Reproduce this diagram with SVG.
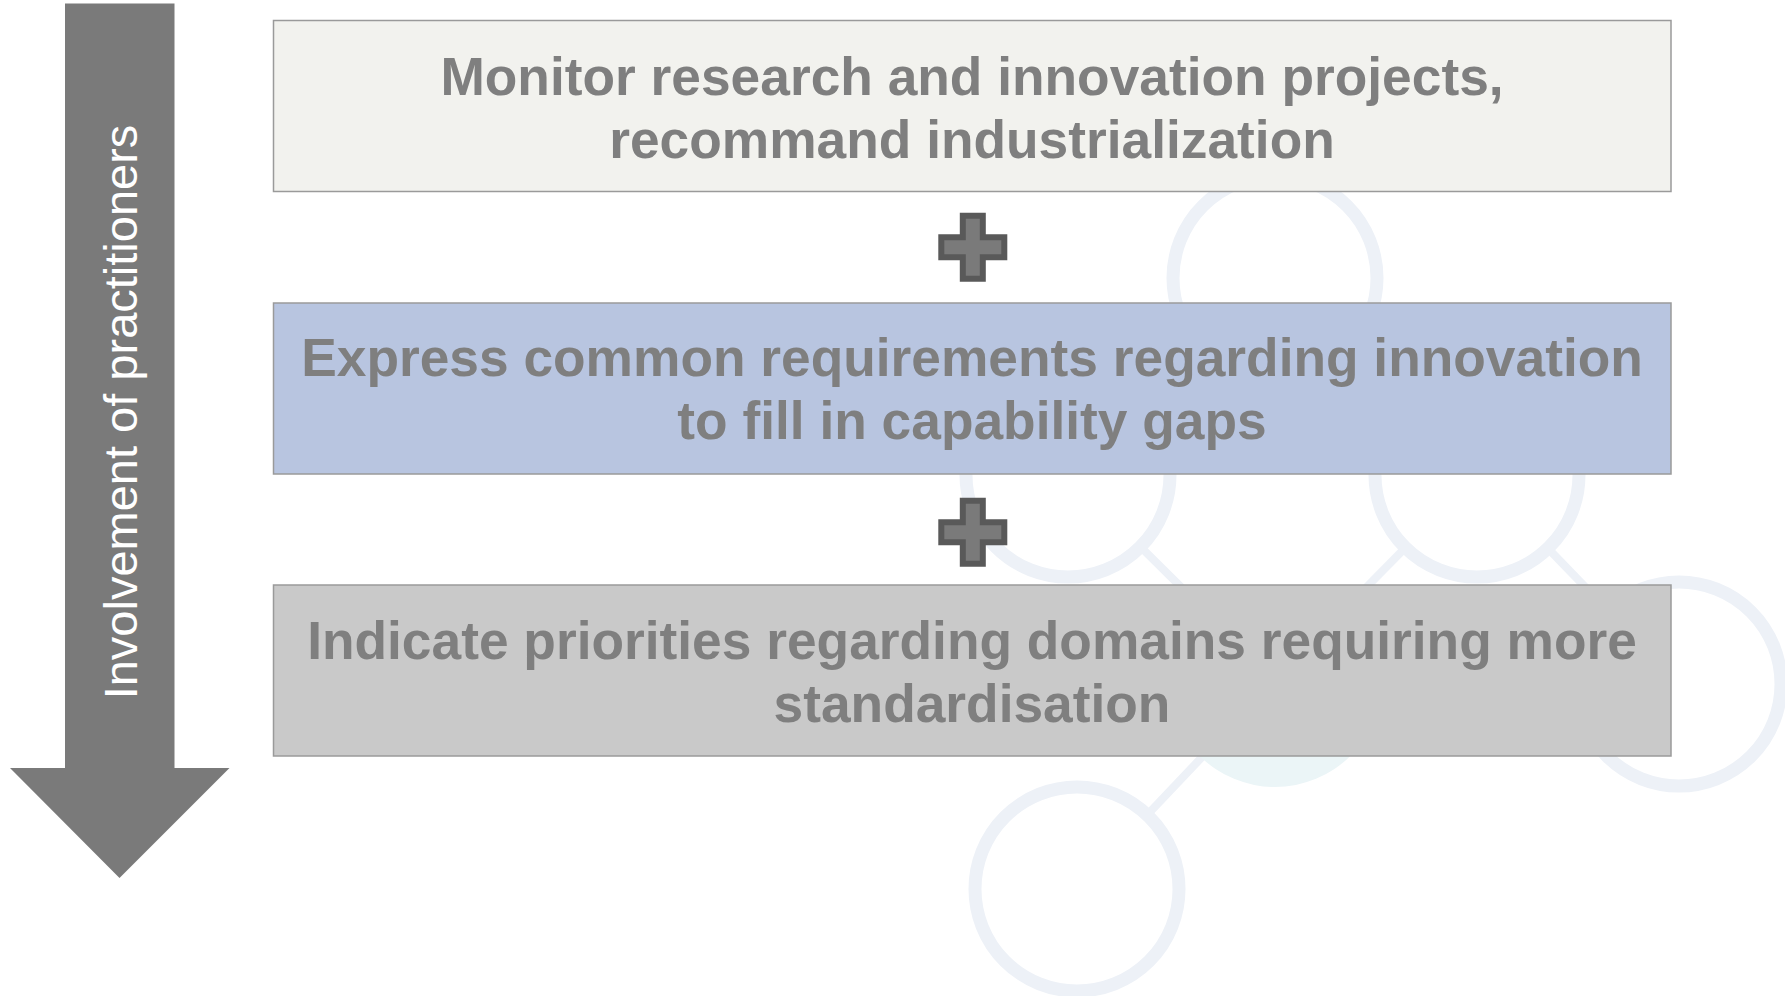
<svg xmlns="http://www.w3.org/2000/svg" width="1785" height="996" viewBox="0 0 1785 996">
<style>
.bgc{fill:#ffffff;stroke:#edf1f7;stroke-width:13}
.bgl{stroke:#edf1f7;stroke-width:8;fill:none}
.box{stroke:#9a9a9a;stroke-width:1.5}
.lbl{font-family:"Liberation Sans",Arial,sans-serif;font-weight:bold;font-size:53.3px;fill:#7f7f7f;text-anchor:middle}
.plus{fill:#7a7a7a;stroke:#595959;stroke-width:6;stroke-linejoin:miter}
</style>
<defs>
<path id="plusShape" d="M-10,-31.5 H10 V-10 H31.5 V10 H10 V31.5 H-10 V10 H-31.5 V-10 H-10 Z"/>
<clipPath id="clipE"><rect x="1100" y="590" width="350" height="250"/></clipPath>
</defs>
<rect width="1785" height="996" fill="#ffffff"/>
<g id="background">
<g id="connectors">
<line class="bgl" x1="1068" y1="475" x2="1275" y2="680"/>
<line class="bgl" x1="1477" y1="475" x2="1275" y2="680"/>
<line class="bgl" x1="1477" y1="475" x2="1679" y2="684"/>
<line class="bgl" x1="1275" y1="680" x2="1077" y2="889"/>
<line class="bgl" x1="1275" y1="278" x2="1068" y2="475"/>
<line class="bgl" x1="1275" y1="278" x2="1477" y2="475"/>
</g>
<circle class="bgc" cx="1275" cy="278" r="102"/>
<circle class="bgc" cx="1068" cy="475" r="102"/>
<circle class="bgc" cx="1477" cy="475" r="102"/>
<circle cx="1275" cy="680" r="107" fill="#ebf5f7" clip-path="url(#clipE)"/>
<circle class="bgc" cx="1679" cy="684" r="102"/>
<circle class="bgc" cx="1077" cy="889" r="102"/>
</g>
<g id="arrow">
<path d="M65,3.5 H174.5 V768 H229.5 L119.5,878 L10,768 H65 Z" fill="#7a7a7a"/>
<text transform="translate(136.5,412) rotate(-90)" font-family="'Liberation Sans',Arial,sans-serif" font-size="47" fill="#ffffff" text-anchor="middle">Involvement of practitioners</text>
</g>
<g id="box1">
<rect class="box" x="273.5" y="20.5" width="1397.5" height="171" fill="#f2f2ee"/>
<text class="lbl" x="972" y="94.5">Monitor research and innovation projects,</text>
<text class="lbl" x="972" y="157.5">recommand industrialization</text>
</g>
<g id="plus1" transform="translate(972.8,247.2)">
<use href="#plusShape" class="plus"/>
</g>
<g id="box2">
<rect class="box" x="273.5" y="303" width="1397.5" height="171" fill="#b8c5e0"/>
<text class="lbl" x="972" y="375.5">Express common requirements regarding innovation</text>
<text class="lbl" x="972" y="438.5">to fill in capability gaps</text>
</g>
<g id="plus2" transform="translate(972.8,532.2)">
<use href="#plusShape" class="plus"/>
</g>
<g id="box3">
<rect class="box" x="273.5" y="585" width="1397.5" height="171" fill="#c9c9c9"/>
<text class="lbl" x="972" y="659">Indicate priorities regarding domains requiring more</text>
<text class="lbl" x="972" y="722">standardisation</text>
</g>
</svg>
